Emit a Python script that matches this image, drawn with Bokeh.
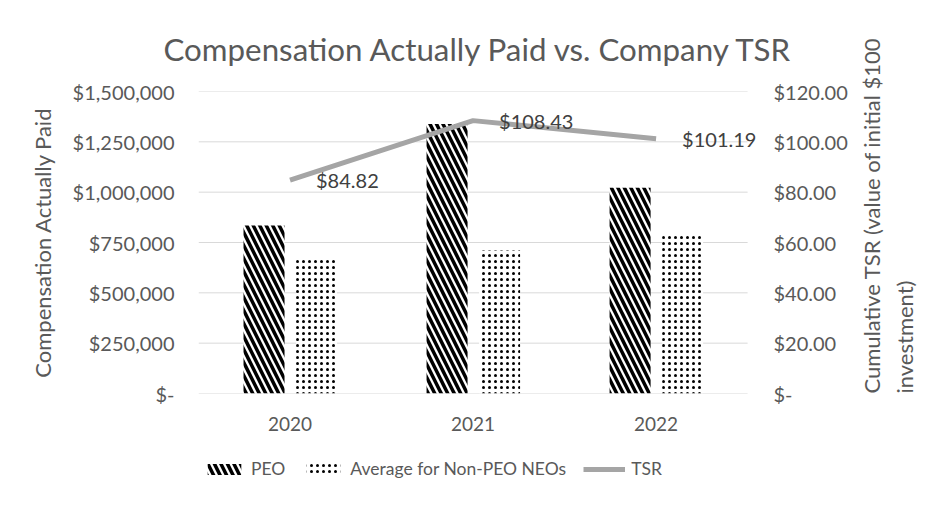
import math
from bokeh.plotting import figure
from bokeh.layouts import column
from bokeh.models import (ColumnDataSource, Range1d, LinearAxis, FixedTicker,
                          Legend, LegendItem, LabelSet)
from bokeh.core.properties import value
from bokeh.transform import dodge
from bokeh.embed import file_html
from bokeh.resources import INLINE

years = ["2020", "2021", "2022"]
peo = [834000, 1339000, 1022000]
non_peo_avg = [677000, 710000, 785000]
tsr = [84.82, 108.43, 101.19]
series_names = ["PEO", "Average for Non-PEO NEOs", "TSR"]

left_ticks = [0, 250000, 500000, 750000, 1000000, 1250000, 1500000]
left_tick_labels = ["$-", "$250,000", "$500,000", "$750,000", "$1,000,000", "$1,250,000", "$1,500,000"]
right_ticks = [0, 20, 40, 60, 80, 100, 120]
right_tick_labels = ["$-", "$20.00", "$40.00", "$60.00", "$80.00", "$100.00", "$120.00"]

FONT = "Lato"
TXT = "#595959"
PEO_STYLE = dict(fill_color="white", line_color=None, hatch_pattern="left_diagonal_line",
                 hatch_color="black", hatch_weight=3.5, hatch_scale=13)
AVG_STYLE = dict(fill_color="white", line_color=None, hatch_pattern="dot",
                 hatch_color="black", hatch_weight=1.0, hatch_scale=6)
TSR_STYLE = dict(line_color="#a5a5a5", line_width=5)

xi = list(range(len(years)))
src = ColumnDataSource(dict(xi=xi, year=years, peo=peo, avg=non_peo_avg, tsr=tsr,
                            tsr_lbl=["$%.2f" % v for v in tsr]))

p = figure(width=950, height=447, x_range=Range1d(-0.5, 2.565),
           y_range=Range1d(0, 1500000), output_backend="svg", toolbar_location=None,
           min_border_left=198, min_border_right=190, min_border_top=91, min_border_bottom=54)
p.outline_line_color = None
p.background_fill_color = "white"
p.border_fill_color = "white"

p.title.text = "Compensation Actually Paid vs. Company TSR"
p.title.align = "left"
p.title.offset = -35
p.title.text_font = FONT
p.title.text_font_size = "31.3px"
p.title.text_font_style = "normal"
p.title.text_color = TXT
p.title.standoff = 48

p.extra_y_ranges = {"tsr": Range1d(0, 120)}

# horizontal gridlines across the category area only
p.ygrid.grid_line_color = None
p.xgrid.grid_line_color = None
p.segment(x0=[xi[0] - 0.5] * len(left_ticks), x1=[xi[-1] + 0.5] * len(left_ticks),
          y0=left_ticks, y1=left_ticks, line_color="#d9d9d9", line_width=1)

p.vbar(x=dodge("xi", -0.142), top="peo", width=0.224, source=src, **PEO_STYLE)
p.vbar(x=dodge("xi", 0.145), top="avg", width=0.224, source=src, **AVG_STYLE)
p.line(x="xi", y="tsr", source=src, y_range_name="tsr", **TSR_STYLE)

labels = LabelSet(x="xi", y="tsr", text="tsr_lbl", source=src, y_range_name="tsr",
                  x_offset=26, text_baseline="middle", text_font=value(FONT),
                  text_font_size="20px", text_color="#404040")
p.add_layout(labels)

# axes
p.xaxis.ticker = FixedTicker(ticks=xi)
p.xaxis.major_label_overrides = dict(zip(xi, years))
p.yaxis.ticker = FixedTicker(ticks=left_ticks)
p.yaxis.major_label_overrides = dict(zip(left_ticks, left_tick_labels))
p.yaxis.axis_label = "Compensation Actually Paid"
ax_r = LinearAxis(y_range_name="tsr", ticker=FixedTicker(ticks=right_ticks),
                  axis_label="Cumulative TSR (value of initial $100\ninvestment)")
ax_r.major_label_overrides = dict(zip(right_ticks, right_tick_labels))
p.add_layout(ax_r, "right")

for ax in [p.yaxis[0], ax_r, p.xaxis[0]]:
    ax.axis_line_color = None
    ax.major_tick_line_color = None
    ax.minor_tick_line_color = None
    ax.major_label_text_font = FONT
    ax.major_label_text_font_size = "20px"
    ax.major_label_text_color = TXT
    ax.axis_label_text_font = FONT
    ax.axis_label_text_font_size = "22px"
    ax.axis_label_text_font_style = "normal"
    ax.axis_label_text_color = TXT

p.xaxis.major_label_text_font_size = "19px"
p.yaxis[0].major_label_standoff = 18
p.yaxis[0].axis_label_standoff = 14
ax_r.major_label_standoff = 8
ax_r.axis_label_standoff = 37
ax_r.axis_label_orientation = math.pi / 2
ax_r.axis_label_align = "start"
p.xaxis.major_label_standoff = 17

# legend strip (own figure below the chart; key swatches only, drawn off-range)
lg = figure(width=950, height=60, x_range=Range1d(0, 1), y_range=Range1d(0, 1),
            output_backend="svg", toolbar_location=None, min_border=0)
lg.axis.visible = False
lg.grid.visible = False
lg.outline_line_color = None
lg.border_fill_color = "white"
proxy = ColumnDataSource(dict(x=[-10, -9], top=[-10, -10], y=[-10, -10]))
r1 = lg.vbar(x="x", top="top", width=0.1, source=proxy, **PEO_STYLE)
r2 = lg.vbar(x="x", top="top", width=0.1, source=proxy, **AVG_STYLE)
r3 = lg.line(x="x", y="y", source=proxy, **TSR_STYLE)
legend = Legend(items=[LegendItem(label=series_names[0], renderers=[r1]),
                       LegendItem(label=series_names[1], renderers=[r2]),
                       LegendItem(label=series_names[2], renderers=[r3])],
                location=(5, 28), orientation="horizontal", padding=0, margin=0,
                border_line_color=None, background_fill_alpha=0,
                glyph_width=42, glyph_height=14, label_standoff=6, spacing=17,
                label_text_font=FONT, label_text_font_size="17.5px", label_text_color=TXT)
lg.add_layout(legend)

open("out.html", "w").write(file_html(column(p, lg), INLINE))
